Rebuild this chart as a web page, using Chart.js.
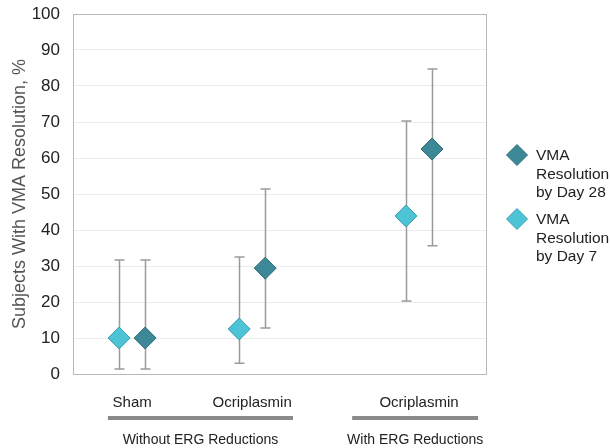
<!DOCTYPE html>
<html>
<head>
<meta charset="utf-8">
<script src="https://cdn.jsdelivr.net/npm/chart.js@4"></script>
<style>
  html, body { margin: 0; padding: 0; background: #fff; }
  #wrap { width: 610px; height: 448px; }
</style>
</head>
<body>
<div id="wrap"><canvas id="vmaChart" width="610" height="448"></canvas></div>
<script>
// dados
const categories = ['Sham', 'Ocriplasmin', 'Ocriplasmin'];
const groupLabels = ['Without ERG Reductions', 'With ERG Reductions'];
const day7 = [10, 12.5, 43.9];
const day7Low = [1.4, 3.0, 20.3];
const day7High = [31.7, 32.5, 70.3];
const day28 = [10, 29.4, 62.5];
const day28Low = [1.4, 12.8, 35.6];
const day28High = [31.7, 51.4, 84.7];
const yTicks = [0, 10, 20, 30, 40, 50, 60, 70, 80, 90, 100];

// posições no eixo x (layout)
const catPos = [1, 3.03, 5.85];
const seriesShift = 0.22;
const groupSpans = [[0.59, 3.72], [4.72, 6.85]];

const FONT = "'Liberation Sans', Arial, sans-serif";
const col28 = '#3d8896', col28b = '#2f6d78';
const col7 = '#4dc3d6', col7b = '#3a9db0';

function pts(vals, lo, hi, sign) {
    return vals.map((v, i) => ({ x: catPos[i] + sign * seriesShift, y: v, lo: lo[i], hi: hi[i] }));
}

const extras = {
    id: 'extras',
    beforeDatasetsDraw(chart) {
        const { ctx, chartArea: a, scales: { x, y } } = chart;
        ctx.save();
        // caixa do gráfico
        ctx.strokeStyle = '#b8b8b8';
        ctx.lineWidth = 1;
        ctx.strokeRect(a.left + 0.5, a.top + 0.5, a.right - a.left - 1, a.bottom - a.top);
        // barras de erro
        ctx.strokeStyle = '#9a9a9a';
        ctx.lineWidth = 1.5;
        chart.data.datasets.forEach(ds => {
            ds.data.forEach(p => {
                const px = Math.round(x.getPixelForValue(p.x)) + 0.5;
                const top = y.getPixelForValue(p.hi), bot = y.getPixelForValue(p.lo);
                ctx.beginPath();
                ctx.moveTo(px, top); ctx.lineTo(px, bot);
                ctx.moveTo(px - 5, top); ctx.lineTo(px + 5, top);
                ctx.moveTo(px - 5, bot); ctx.lineTo(px + 5, bot);
                ctx.stroke();
            });
        });
        ctx.restore();
    },
    afterDraw(chart) {
        const { ctx, scales: { x } } = chart;
        ctx.save();
        // linhas dos grupos
        ctx.font = '14px ' + FONT;
        ctx.textAlign = 'center';
        ctx.textBaseline = 'middle';
        groupSpans.forEach((s, i) => {
            const x0 = x.getPixelForValue(s[0]), x1 = x.getPixelForValue(s[1]);
            ctx.fillStyle = '#8a8a8a';
            ctx.fillRect(x0, 416, x1 - x0, 4);
            ctx.fillStyle = '#222';
            ctx.fillText(groupLabels[i], (x0 + x1) / 2, 440);
        });
        // legenda
        const items = [
            { fill: col28, stroke: col28b, lines: ['VMA', 'Resolution', 'by Day 28'], y: 155 },
            { fill: col7, stroke: col7b, lines: ['VMA', 'Resolution', 'by Day 7'], y: 219 }
        ];
        ctx.font = '15.5px ' + FONT;
        ctx.textAlign = 'left';
        items.forEach(it => {
            ctx.beginPath();
            ctx.moveTo(517, it.y - 10.5); ctx.lineTo(527.5, it.y); ctx.lineTo(517, it.y + 10.5); ctx.lineTo(506.5, it.y);
            ctx.closePath();
            ctx.fillStyle = it.fill; ctx.fill();
            ctx.strokeStyle = it.stroke; ctx.lineWidth = 1; ctx.stroke();
            ctx.fillStyle = '#222';
            it.lines.forEach((t, k) => ctx.fillText(t, 536, it.y + 1 + k * 18.5));
        });
        ctx.restore();
    }
};

const ctx = document.getElementById('vmaChart').getContext('2d');
const vmaChart = new Chart(ctx, {
    type: 'scatter',
    data: {
        datasets: [
            {
                label: 'VMA Resolution by Day 7',
                data: pts(day7, day7Low, day7High, -1),
                backgroundColor: col7, borderColor: col7b, borderWidth: 1,
                pointStyle: 'rectRot', pointRadius: 11, pointHoverRadius: 11
            },
            {
                label: 'VMA Resolution by Day 28',
                data: pts(day28, day28Low, day28High, 1),
                backgroundColor: col28, borderColor: col28b, borderWidth: 1,
                pointStyle: 'rectRot', pointRadius: 11, pointHoverRadius: 11
            }
        ]
    },
    options: {
        responsive: false,
        animation: false,
        layout: { padding: { top: 14, right: 123, left: 0, bottom: 0 } },
        plugins: { legend: { display: false }, tooltip: { enabled: false } },
        scales: {
            x: {
                type: 'linear', min: 0, max: 7,
                grid: { display: false },
                border: { display: false },
                afterBuildTicks: s => { s.ticks = catPos.map(v => ({ value: v })); },
                afterFit: s => { s.height = 74; s.paddingLeft = 0; s.paddingRight = 0; },
                ticks: {
                    padding: 12,
                    color: '#222',
                    font: { family: FONT, size: 15 },
                    callback: (v, i) => categories[i]
                }
            },
            y: {
                min: 0, max: 100,
                afterBuildTicks: s => { s.ticks = yTicks.map(v => ({ value: v })); },
                afterFit: s => { s.width = 73; s.paddingTop = 0; s.paddingBottom = 0; },
                grid: { color: '#ececec', drawTicks: false },
                border: { display: false },
                ticks: {
                    padding: 13,
                    color: '#222',
                    font: { family: FONT, size: 17 }
                },
                title: {
                    display: true,
                    text: 'Subjects With VMA Resolution, %',
                    color: '#555',
                    font: { family: FONT, size: 18 },
                    padding: { top: 9, bottom: 0 }
                }
            }
        }
    },
    plugins: [extras]
});
</script>
</body>
</html>
